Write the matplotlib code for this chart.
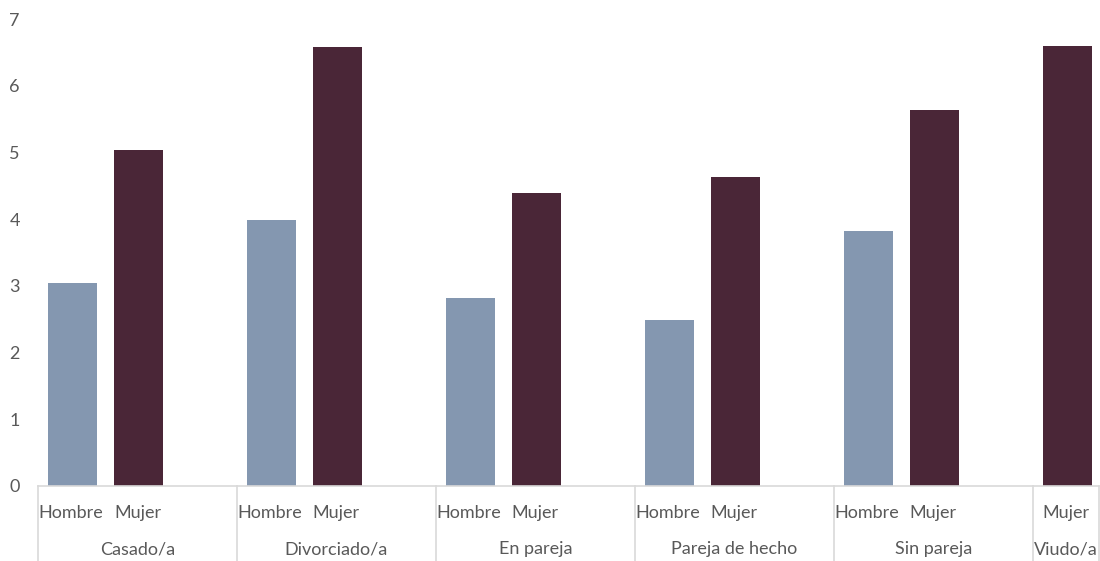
import matplotlib
matplotlib.use("Agg")
import matplotlib.pyplot as plt
from matplotlib.transforms import blended_transform_factory

plt.rcParams['font.family'] = ['Lato', 'DejaVu Sans']

# Data
categories = ["Casado/a", "Divorciado/a", "En pareja", "Pareja de hecho", "Sin pareja", "Viudo/a"]
hombre = [3.04, 3.99, 2.82, 2.49, 3.82, None]
mujer = [5.04, 6.58, 4.39, 4.63, 5.64, 6.60]
sex_labels = ["Hombre", "Mujer"]

c_hombre = "#8497B0"
c_mujer = "#4A2637"
text_color = "#595959"
line_color = "#D9D9D9"

fig = plt.figure(figsize=(11, 5.61), dpi=100)
ax = fig.add_axes([38 / 1100, 75 / 561, 1061 / 1100, 467 / 561])

# Layout slots: each group has Hombre, Mujer and one empty slot; the last group only Mujer
bar_w = 0.74
slot = 0
groups = []  # (start, end, center) in slot units
tick_pos, tick_lab = [], []
for i, cat in enumerate(categories):
    start = slot - 0.5
    if hombre[i] is not None:
        ax.bar(slot + 0.02, hombre[i], width=bar_w, color=c_hombre, zorder=2)
        tick_pos.append(slot); tick_lab.append(sex_labels[0])
        slot += 1
    ax.bar(slot + 0.02, mujer[i], width=bar_w, color=c_mujer, zorder=2)
    tick_pos.append(slot); tick_lab.append(sex_labels[1])
    slot += 1
    if i < len(categories) - 1:
        slot += 1
    end = slot - 0.5
    groups.append((start, end, (start + end) / 2))

ax.set_xlim(-0.5, slot - 0.5)
ax.set_ylim(0, 7)
ax.set_yticks(range(0, 8))
ax.tick_params(axis='y', length=0, pad=13, labelsize=13, labelcolor=text_color)
ax.set_xticks([])

for s in ["left", "right", "top"]:
    ax.spines[s].set_visible(False)
ax.spines["bottom"].set_color(line_color)
ax.spines["bottom"].set_linewidth(1.2)

trans = blended_transform_factory(ax.transData, ax.transAxes)

for x, lab in zip(tick_pos, tick_lab):
    ax.text(x, -0.057, lab, transform=trans, ha='center', va='center',
            fontsize=13, color=text_color, clip_on=False)

for cat, (start, end, center) in zip(categories, groups):
    ax.text(center, -0.135, cat, transform=trans,
            ha='center', va='center', fontsize=13, color=text_color, clip_on=False)

bounds = sorted(set([g[0] for g in groups] + [g[1] for g in groups]))
for b in bounds:
    ax.plot([b, b], [0, -0.17], transform=trans, color=line_color, lw=1.2, clip_on=False)

fig.savefig("out.png", dpi=100)
